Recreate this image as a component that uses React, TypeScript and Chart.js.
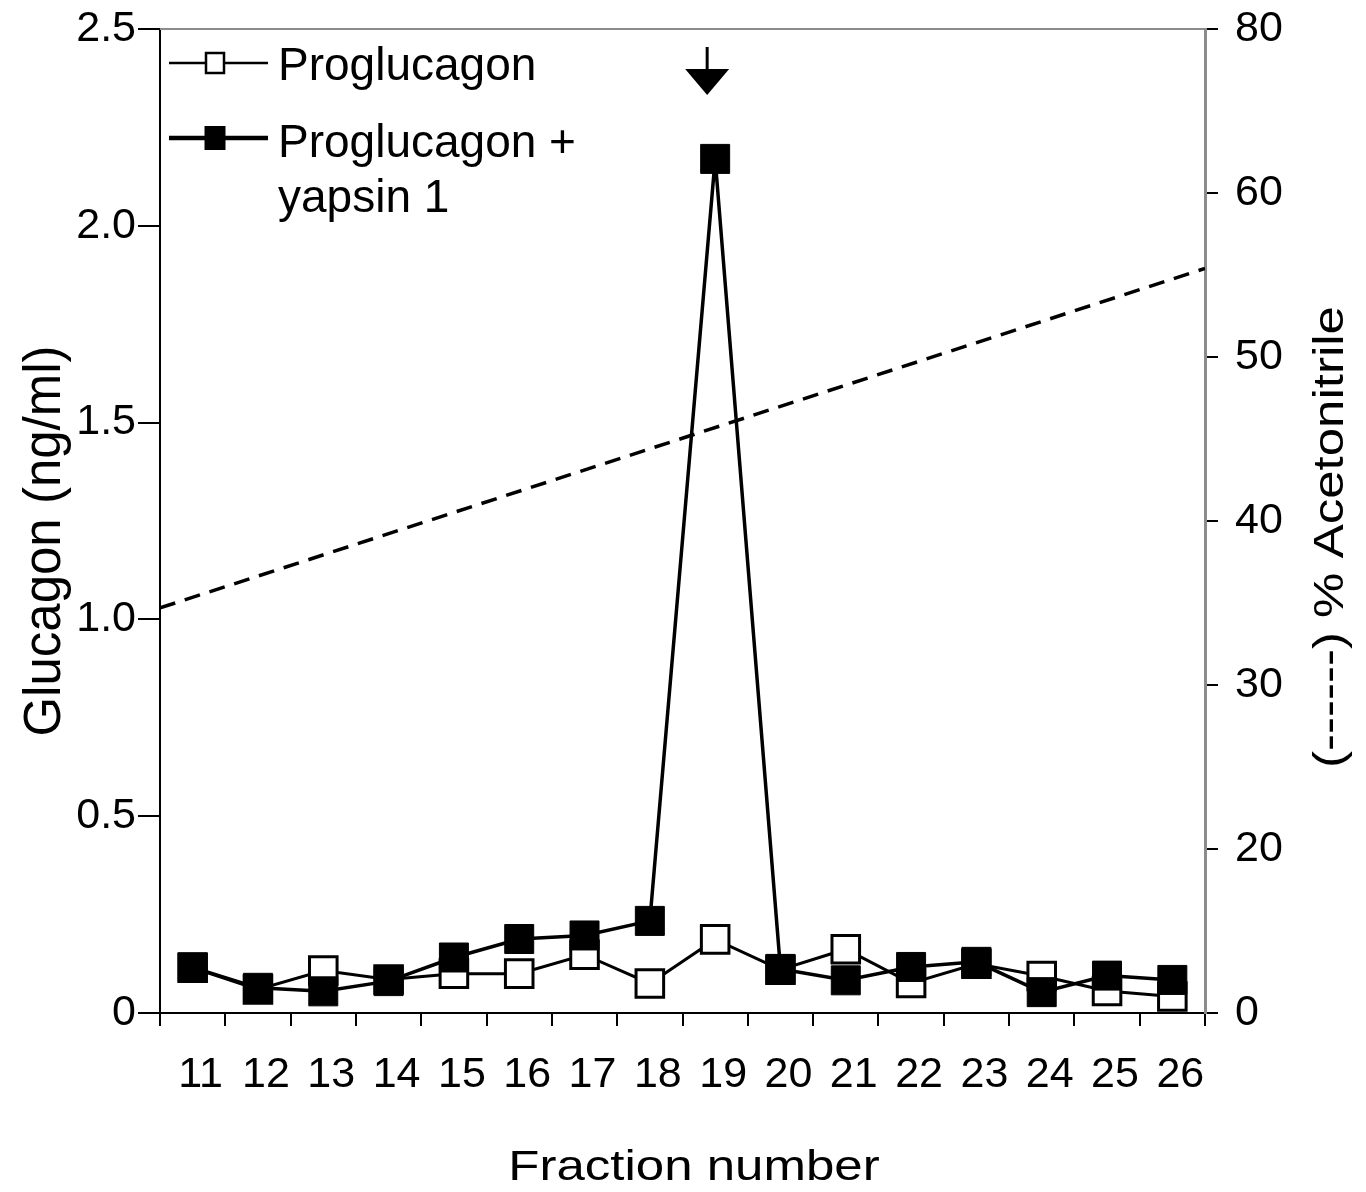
import React, { useEffect, useRef } from "react";
import { Chart, registerables } from "chart.js";

Chart.register(...registerables);

// ---- data ----
const fractionLabels = ["11", "12", "13", "14", "15", "16", "17", "18", "19", "20", "21", "22", "23", "24", "25", "26"];
const proglucagon = [0.115, 0.06, 0.108, 0.085, 0.1, 0.1, 0.148, 0.075, 0.187, 0.11, 0.162, 0.076, 0.125, 0.094, 0.056, 0.042];
const proglucagonYapsin1 = [0.116, 0.064, 0.055, 0.081, 0.141, 0.188, 0.197, 0.234, 2.17, 0.112, 0.083, 0.117, 0.13, 0.053, 0.095, 0.084];
const gradientFraction = [10.5, 26.5];
const gradientAcetonitrile = [34.7, 55.4];
const glucagonTicks = [0, 0.5, 1, 1.5, 2, 2.5];
const glucagonTickLabels = ["0", "0.5", "1.0", "1.5", "2.0", "2.5"];
const acetonitrileTicks = [10, 20, 30, 40, 50, 60, 70];
const acetonitrileTickLabels = ["0", "20", "30", "40", "50", "60", "80"];
const legendLines = [["Proglucagon"], ["Proglucagon +", "yapsin 1"]];
const arrowFraction = "19";
const xTitle = "Fraction number";
const yTitle = "Glucagon (ng/ml)";
const y2Title = "(------) % Acetonitrile";

const FONT = "'Liberation Sans', Arial, Helvetica, sans-serif";

const zeroPad = (s: any) => {
  s.paddingTop = 0;
  s.paddingBottom = 0;
  s.paddingLeft = 0;
  s.paddingRight = 0;
};

const decorations = {
  id: "decorations",
  afterDraw(chart: any) {
    const { ctx, chartArea, scales } = chart;
    const { left, top, right } = chartArea;
    ctx.save();

    // top frame line (grey)
    ctx.strokeStyle = "#8c8c8c";
    ctx.lineWidth = 2;
    ctx.beginPath();
    ctx.moveTo(left, top);
    ctx.lineTo(right, top);
    ctx.stroke();

    // arrow above the peak
    const ax = scales.x.getPixelForValue(fractionLabels.indexOf(arrowFraction)) - 8;
    ctx.strokeStyle = "#000";
    ctx.fillStyle = "#000";
    ctx.lineWidth = 3;
    ctx.beginPath();
    ctx.moveTo(ax, top + 18);
    ctx.lineTo(ax, top + 42);
    ctx.stroke();
    ctx.beginPath();
    ctx.moveTo(ax - 22, top + 40);
    ctx.lineTo(ax + 22, top + 40);
    ctx.lineTo(ax, top + 66);
    ctx.closePath();
    ctx.fill();

    // legend
    const lx0 = left + 9;
    const lx1 = left + 108;
    const mx = left + 55;
    const rows = [
      { y: top + 34, lw: 2.5, filled: false, w: 18, h: 20, base: [top + 51] },
      { y: top + 109, lw: 4.5, filled: true, w: 21, h: 24, base: [top + 128, top + 183] },
    ];
    ctx.font = `46px ${FONT}`;
    ctx.textAlign = "left";
    ctx.textBaseline = "alphabetic";
    rows.forEach((r, i) => {
      ctx.strokeStyle = "#000";
      ctx.lineWidth = r.lw;
      ctx.beginPath();
      ctx.moveTo(lx0, r.y);
      ctx.lineTo(lx1, r.y);
      ctx.stroke();
      if (r.filled) {
        ctx.fillStyle = "#000";
        ctx.fillRect(mx - r.w / 2, r.y - r.h / 2, r.w, r.h);
      } else {
        ctx.fillStyle = "#fff";
        ctx.fillRect(mx - r.w / 2, r.y - r.h / 2, r.w, r.h);
        ctx.lineWidth = 2.5;
        ctx.strokeRect(mx - r.w / 2, r.y - r.h / 2, r.w, r.h);
      }
      ctx.fillStyle = "#000";
      legendLines[i].forEach((t, j) => ctx.fillText(t, left + 118, r.base[j]));
    });

    // axis titles
    ctx.fillStyle = "#000";
    ctx.font = `51px ${FONT}`;
    ctx.textAlign = "center";
    ctx.textBaseline = "alphabetic";

    // x title
    ctx.save();
    ctx.translate(694, 1180);
    ctx.scale(1, 0.85);
    ctx.fillText(xTitle, 0, 0);
    ctx.restore();

    // left y title
    ctx.save();
    ctx.translate(60, 541);
    ctx.rotate(-Math.PI / 2);
    ctx.scale(1, 1.02);
    ctx.fillText(yTitle, 0, 0);
    ctx.restore();

    // right y title
    ctx.save();
    ctx.translate(1343, 537);
    ctx.rotate(-Math.PI / 2);
    ctx.scale(1, 0.85);
    ctx.fillText(y2Title, 0, 0);
    ctx.restore();

    ctx.restore();
  },
};

export default function App() {
  const canvasRef = useRef<HTMLCanvasElement | null>(null);

  useEffect(() => {
    if (!canvasRef.current) return;
    const tickFont = { family: FONT, size: 43 };
    const chart = new Chart(canvasRef.current, {
      type: "line",
      data: {
        labels: fractionLabels,
        datasets: [
          {
            label: "Proglucagon + yapsin 1",
            data: proglucagonYapsin1,
            borderColor: "#000",
            backgroundColor: "#000",
            borderWidth: 3.5,
            pointStyle: "rect",
            pointRadius: 20.5,
            pointBorderWidth: 1,
            pointBackgroundColor: "#000",
            pointBorderColor: "#000",
            xAxisID: "x",
            yAxisID: "y",
          },
          {
            label: "Proglucagon",
            data: proglucagon,
            borderColor: "#000",
            backgroundColor: "#fff",
            borderWidth: 3,
            pointStyle: "rect",
            pointRadius: 19.5,
            pointBorderWidth: 3,
            pointBackgroundColor: "#fff",
            pointBorderColor: "#000",
            xAxisID: "x",
            yAxisID: "y",
          },
          {
            label: "% Acetonitrile",
            data: gradientFraction.map((f, i) => ({ x: f, y: gradientAcetonitrile[i] })),
            borderColor: "#000",
            borderWidth: 3.5,
            borderDash: [16, 10],
            pointRadius: 0,
            xAxisID: "xg",
            yAxisID: "y2",
          } as any,
        ],
      },
      options: {
        responsive: false,
        animation: false,
        layout: { padding: { top: 29, left: 0, right: 0, bottom: 0 } },
        plugins: {
          legend: { display: false },
          tooltip: { enabled: false },
        },
        scales: {
          x: {
            type: "category",
            offset: true,
            grid: {
              offset: true,
              drawOnChartArea: false,
              drawTicks: true,
              tickLength: 13,
              color: "#000",
              lineWidth: 2,
            },
            border: { color: "#000", width: 2 },
            ticks: {
              font: tickFont,
              color: "#000",
              padding: 23,
              labelOffset: 8,
              maxRotation: 0,
              autoSkip: false,
            },
            afterFit: (s: any) => {
              s.height = 179;
              zeroPad(s);
            },
          },
          xg: {
            type: "linear",
            display: false,
            min: gradientFraction[0],
            max: gradientFraction[gradientFraction.length - 1],
          },
          y: {
            type: "linear",
            position: "left",
            min: 0,
            max: 2.5,
            afterBuildTicks: (s: any) => {
              s.ticks = glucagonTicks.map((v) => ({ value: v }));
            },
            ticks: {
              font: tickFont,
              color: "#000",
              padding: 2,
              callback: (v: any) => glucagonTickLabels[glucagonTicks.indexOf(Number(v))],
            },
            grid: {
              drawOnChartArea: false,
              tickLength: 22,
              color: "#000",
              lineWidth: 2,
            },
            border: { color: "#000", width: 2 },
            afterFit: (s: any) => {
              s.width = 160;
              zeroPad(s);
            },
          },
          y2: {
            type: "linear",
            position: "right",
            min: 10,
            max: 70,
            afterBuildTicks: (s: any) => {
              s.ticks = acetonitrileTicks.map((v) => ({ value: v }));
            },
            ticks: {
              font: tickFont,
              color: "#000",
              padding: 17,
              callback: (v: any) => acetonitrileTickLabels[acetonitrileTicks.indexOf(Number(v))],
            },
            grid: {
              drawOnChartArea: false,
              tickLength: 13,
              color: "#000",
              lineWidth: 2,
            },
            border: { color: "#8c8c8c", width: 3 },
            afterFit: (s: any) => {
              s.width = 161;
              zeroPad(s);
            },
          },
        },
      },
      plugins: [decorations],
    });
    return () => chart.destroy();
  }, []);

  return (
    <div style={{ position: "absolute", left: 0, top: 0, width: 1366, height: 1192, background: "#fff" }}>
      <canvas ref={canvasRef} width={1366} height={1192} style={{ display: "block", width: 1366, height: 1192 }} />
    </div>
  );
}
